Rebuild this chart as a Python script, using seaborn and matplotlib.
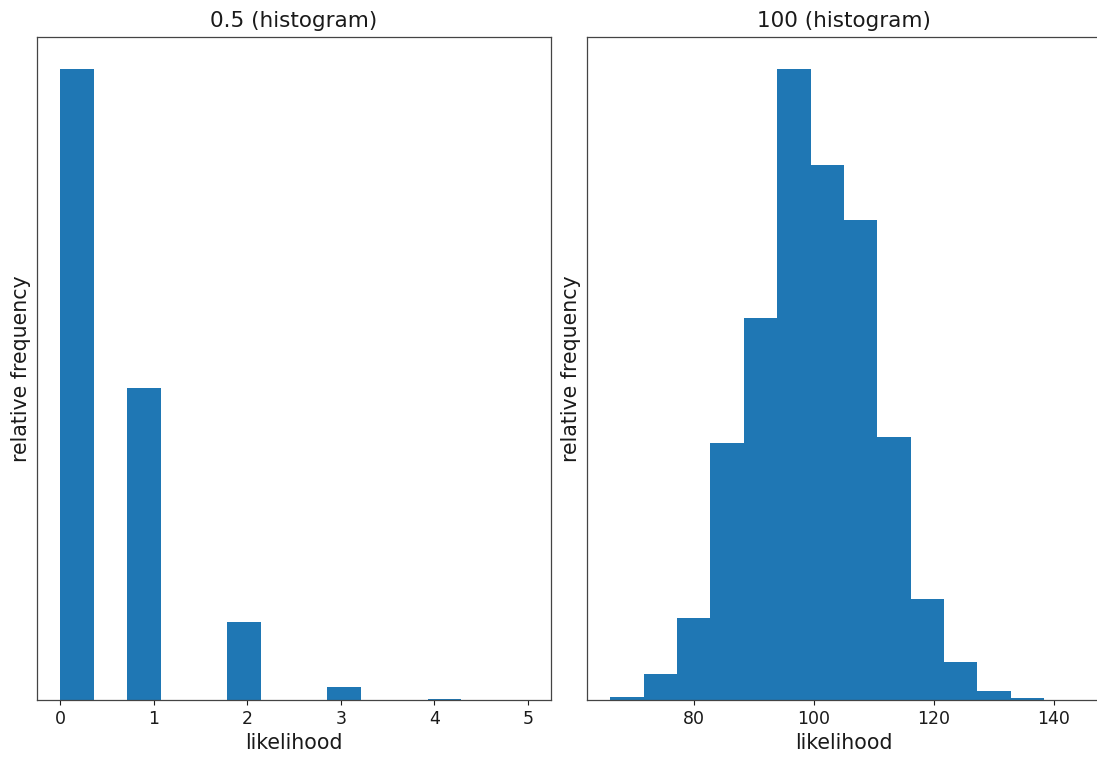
import numpy as np
import seaborn as sns
import matplotlib.pyplot as plt

# lambda = 0.5: counts for each observed value
low_values = [0, 1, 2, 3, 4, 5]
low_counts = [6070, 2997, 747, 125, 10, 1]
low_range = (0, 5)
low_bins = 14

# lambda = 100: counts per histogram bin
high_range = (66, 144)
high_bins = 14
high_counts = [12, 95, 297, 935, 1392, 2300, 1949, 1749, 957, 367, 140, 34, 8, 1]

titles = ['0.5 (histogram)', '100 (histogram)']

sns.set_style('ticks')
plt.rcParams['font.family'] = ['DejaVu Sans']

fig, axes = plt.subplots(1, 2, figsize=(10.97, 7.62), dpi=100)
fig.subplots_adjust(left=37/1097, right=1101/1097, bottom=62/762, top=725/762, wspace=0.0694)

bar_kw = dict(color='#1f77b4', alpha=1, edgecolor='#1f77b4', linewidth=0)

sns.histplot(x=low_values, weights=low_counts, bins=low_bins, binrange=low_range,
             ax=axes[0], **bar_kw)

width = (high_range[1] - high_range[0]) / high_bins
high_centers = high_range[0] + (np.arange(high_bins) + 0.5) * width
sns.histplot(x=high_centers, weights=high_counts, bins=high_bins, binrange=high_range,
             ax=axes[1], **bar_kw)

for ax, title in zip(axes, titles):
    ax.set_title(title, fontsize=15.5, color='#1a1a1a', pad=7)
    ax.set_xlabel('likelihood', fontsize=14.8, color='#1a1a1a')
    ax.set_ylabel('relative frequency', fontsize=14.8, color='#1a1a1a')
    ax.set_yticks([])
    ax.tick_params(axis='x', labelsize=12.5, colors='#1a1a1a')
    for s in ax.spines.values():
        s.set_color('#444444')
        s.set_linewidth(0.9)

axes[1].set_xticks([80, 100, 120, 140])

fig.savefig('out.png', dpi=100)
